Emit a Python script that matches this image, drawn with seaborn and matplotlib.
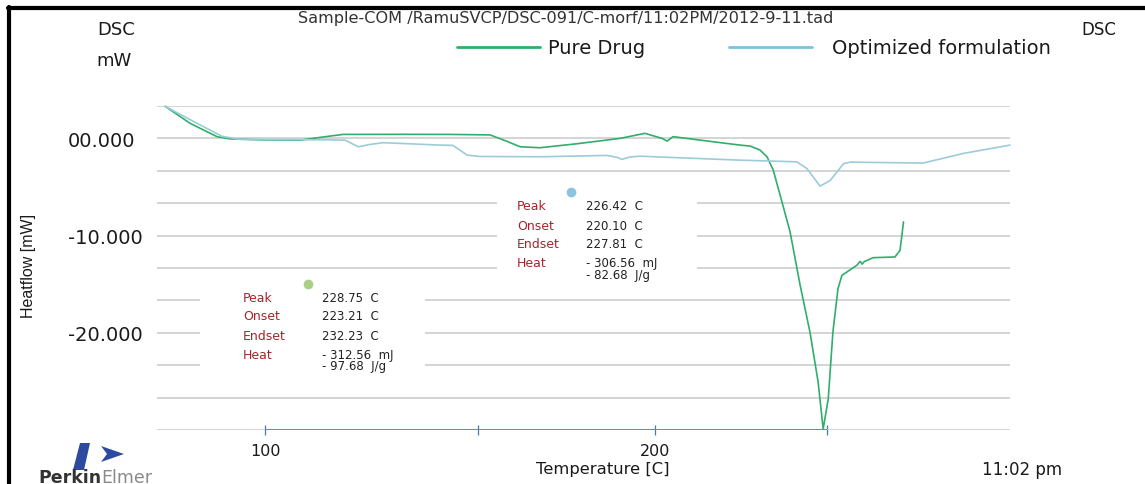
import numpy as np
import pandas as pd
import matplotlib
matplotlib.use("Agg")
import matplotlib.pyplot as plt
from matplotlib.lines import Line2D
from matplotlib.patches import Rectangle, Polygon
import seaborn as sns

# Pure drug thermogram (temperature in C, heat flow in mW)
pure_temp = [74.4, 80.8, 87.7, 91.0, 99.0, 109.0, 115.0, 120.0, 135.0, 147.4, 157.7, 162.0,
             165.4, 170.5, 180.0, 191.0, 197.4, 201.8, 203.1, 204.6, 213.0, 221.8, 224.4,
             226.9, 228.7, 230.3, 232.6, 234.6, 237.2, 239.7, 241.8, 243.1, 244.4, 245.6,
             246.9, 247.9, 249.2, 251.7, 252.6, 253.1, 253.6, 255.9, 261.5, 262.8, 263.7]
pure_flow = [3.30, 1.55, 0.18, -0.05, -0.15, -0.18, 0.15, 0.41, 0.42, 0.41, 0.36, -0.30,
             -0.86, -0.96, -0.55, 0.00, 0.52, 0.00, -0.28, 0.18, -0.25, -0.69, -0.79,
             -1.20, -1.89, -3.26, -6.63, -9.59, -15.12, -19.90, -25.05, -29.90, -26.80,
             -19.90, -15.46, -14.09, -13.74, -13.06, -12.65, -12.94, -12.68, -12.27,
             -12.20, -11.52, -8.59]

# Optimized formulation thermogram
opt_temp = [74.4, 82.1, 89.0, 93.6, 105.0, 116.7, 120.5, 123.9, 126.9, 130.3, 144.9, 148.2,
            151.8, 155.1, 170.5, 187.7, 190.3, 191.5, 193.6, 196.2, 221.8, 236.3, 238.9,
            242.3, 244.9, 248.3, 250.0, 268.7, 279.0, 291.0]
opt_flow = [3.30, 1.65, 0.21, -0.10, -0.12, -0.15, -0.18, -0.86, -0.62, -0.44, -0.69, -0.72,
            -1.72, -1.86, -1.89, -1.75, -1.96, -2.16, -1.91, -1.83, -2.24, -2.41, -3.09,
            -4.91, -4.33, -2.61, -2.44, -2.54, -1.55, -0.69]

series_names = ["Pure Drug", "Optimized formulation"]
series_colors = ["#2fae6c", "#9ccbd9"]
legend_colors = ["#2fae6c", "#7cc2dc"]

y_tick_values = [0, -10, -20]
y_tick_labels = ["00.000", "-10.000", "-20.000"]
x_tick_values = [100, 154.6, 200, 244.1]
x_tick_labels = ["100", "", "200", ""]

# Peak evaluation results for each sample
result_names = ["Peak", "Onset", "Endset", "Heat"]
opt_result_values = ["226.42  C", "220.10  C", "227.81  C", "- 306.56  mJ", "- 82.68  J/g"]
pure_result_values = ["228.75  C", "223.21  C", "232.23  C", "- 312.56  mJ", "- 97.68  J/g"]

df = pd.concat([
    pd.DataFrame({"Temperature": pure_temp, "Heatflow": pure_flow, "Sample": series_names[0]}),
    pd.DataFrame({"Temperature": opt_temp, "Heatflow": opt_flow, "Sample": series_names[1]}),
], ignore_index=True)

sns.set_theme(style="white")
plt.rcParams["font.family"] = ["DejaVu Sans"]

W, H = 1145, 485
fig = plt.figure(figsize=(W / 100, H / 100), dpi=100)
fig.patch.set_facecolor("white")


def fx(px):
    return px / W


def fy(py):
    return 1 - py / H


ax = fig.add_axes([fx(157), fy(431), fx(1010) - fx(157), fy(107) - fy(431)])
ax.set_facecolor("white")

sns.lineplot(data=df, x="Temperature", y="Heatflow", hue="Sample", palette=series_colors,
             hue_order=series_names, estimator=None, sort=False, linewidth=1.2,
             legend=False, ax=ax, zorder=4)
for ln in ax.lines:
    ln.set_clip_on(False)

ax.set_xlim(72.3, 291.0)
ax.set_ylim(-30, 10 / 3)
for s in ax.spines.values():
    s.set_visible(False)

# horizontal grid every 10/3 mW
for g in np.arange(-30, 10 / 3 + 0.01, 10 / 3):
    ax.axhline(g, color="#c9c9c9", linewidth=1.1, zorder=1)

# blank panels behind the result tables
ax.add_patch(Rectangle((fx(497), fy(292)), fx(697) - fx(497), fy(180) - fy(292),
                       transform=fig.transFigure, facecolor="white", edgecolor="none", zorder=2))
ax.add_patch(Rectangle((fx(200), fy(393)), fx(425) - fx(200), fy(277) - fy(393),
                       transform=fig.transFigure, facecolor="white", edgecolor="none", zorder=2))

# temperature axis
ax.hlines(-30, 100, x_tick_values[-1], color="#4f74b5", linewidth=1.1, zorder=3)
ax.set_xticks(x_tick_values)
ax.set_xticklabels(x_tick_labels)
ax.tick_params(axis="x", direction="inout", length=7, width=0.9, color="#4f74b5",
               pad=6, labelsize=11.5, labelcolor="#1a1a1a", bottom=True)
ax.set_yticks(y_tick_values)
ax.set_yticklabels(y_tick_labels)
ax.tick_params(axis="y", length=0, pad=64, labelsize=14, labelcolor="#1a1a1a")
for t in ax.get_yticklabels():
    t.set_horizontalalignment("left")
ax.set_xlabel("")
ax.set_ylabel("")

# text around the plot
fig.text(fx(116), fy(30), "DSC", ha="center", va="center", fontsize=13, color="#1a1a1a")
fig.text(fx(114), fy(61), "mW", ha="center", va="center", fontsize=13, color="#1a1a1a")
fig.text(fx(1099), fy(30), "DSC", ha="center", va="center", fontsize=12, color="#1a1a1a")
fig.text(fx(566), fy(18.5), "Sample-COM /RamuSVCP/DSC-091/C-morf/11:02PM/2012-9-11.tad",
         ha="center", va="center", fontsize=11.6, color="#333333")
fig.text(fx(29), fy(266), "Heatflow [mW]", rotation=90, ha="center", va="center",
         fontsize=11.5, color="#1a1a1a", family=["Liberation Sans"])
fig.text(fx(603), fy(470), "Temperature [C]", ha="center", va="center", fontsize=11.8,
         color="#1a1a1a")
fig.text(fx(1022), fy(470), "11:02 pm", ha="center", va="center", fontsize=12,
         color="#1a1a1a")

# legend
leg_x = [(457, 540, 548), (729, 812, 832)]
for (x0, x1, xt), name, col in zip(leg_x, series_names, legend_colors):
    fig.add_artist(Line2D([fx(x0), fx(x1)], [fy(48), fy(48)], color=col, linewidth=2))
    fig.text(fx(xt), fy(48), name, ha="left", va="center", fontsize=14, color="#1a1a1a")


def result_table(dot_xy, label_x, value_x, rows_y, values, dot_color):
    fig.add_artist(Line2D([fx(dot_xy[0])], [fy(dot_xy[1])], marker="o", markersize=6,
                          color=dot_color, linestyle="none"))
    for name, ry in zip(result_names, rows_y):
        fig.text(fx(label_x), fy(ry), name, ha="left", va="center", fontsize=9,
                 color="#a3262b")
    value_rows = list(rows_y) + [rows_y[-1] + 11.5]
    for val, ry in zip(values, value_rows):
        fig.text(fx(value_x), fy(ry), val, ha="left", va="center", fontsize=8.5,
                 color="#222222")


result_table((571, 193), 517, 586, [207, 226, 245, 264], opt_result_values, "#8cc4e0")
result_table((308, 285), 243, 322, [298, 317, 336.5, 355.5], pure_result_values, "#a9d085")

# frame lines along the top and left edge
fig.add_artist(Line2D([fx(8), 1], [fy(9), fy(9)], color="black", linewidth=3))
fig.add_artist(Line2D([fx(9), fx(9)], [0, fy(8)], color="black", linewidth=3))

# instrument logo
fig.add_artist(Polygon([[fx(73), fy(471)], [fx(80), fy(444)], [fx(90), fy(444)], [fx(84), fy(471)]],
                       closed=True, facecolor="#2b4aa0", edgecolor="none"))
fig.add_artist(Polygon([[fx(101), fy(447)], [fx(124), fy(455)], [fx(101), fy(463)], [fx(107), fy(455)]],
                       closed=True, facecolor="#2b4aa0", edgecolor="none"))
t_perkin = fig.text(fx(38), fy(478), "Perkin", ha="left", va="center", fontsize=12.5,
                    weight="bold", color="#333333")
renderer = fig.canvas.get_renderer()
bb = t_perkin.get_window_extent(renderer)
fig.text(bb.x1 / W, fy(478), "Elmer", ha="left", va="center", fontsize=12.5, color="#8a8a8a")

fig.savefig("out.png", dpi=100, facecolor="white")
